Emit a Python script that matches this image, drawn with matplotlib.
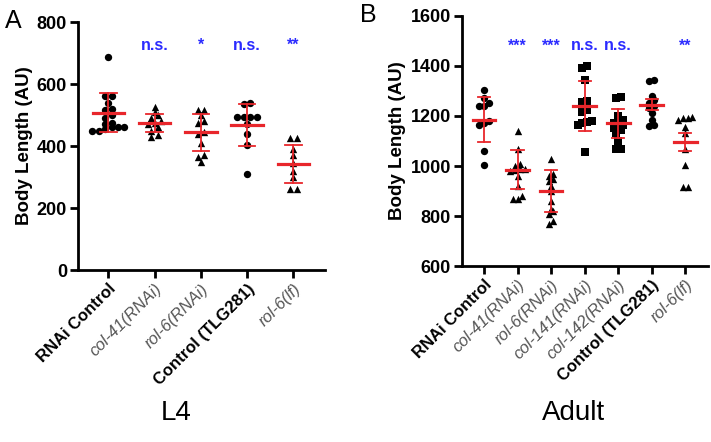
import numpy as np
import matplotlib
matplotlib.use("Agg")
import matplotlib.pyplot as plt

plt.rcParams['font.family'] = ['Liberation Sans', 'DejaVu Sans']

# ---- panel A (L4) ----
l4_labels = ['RNAi Control', 'col-41(RNAi)', 'rol-6(RNAi)', 'Control (TLG281)', 'rol-6(lf)']
l4_control = [True, False, False, True, False]
l4_markers = ['o', '^', '^', 'o', '^']
l4_values = [
    [688, 560, 560, 540, 520, 515, 500, 490, 475, 470, 460, 460, 460, 455, 450, 450],
    [525, 510, 500, 490, 480, 475, 470, 460, 450, 435, 430],
    [515, 515, 500, 480, 475, 445, 440, 410, 370, 365, 350],
    [540, 535, 495, 495, 495, 495, 470, 440, 405, 310],
    [425, 425, 390, 370, 345, 320, 300, 260, 260],
]
l4_mean = [508, 475, 445, 468, 342]
l4_sd = [62, 30, 60, 68, 61]
l4_sig = ['', 'n.s.', '*', 'n.s.', '**']

# ---- panel B (Adult) ----
ad_labels = ['RNAi Control', 'col-41(RNAi)', 'rol-6(RNAi)', 'col-141(RNAi)',
             'col-142(RNAi)', 'Control (TLG281)', 'rol-6(lf)']
ad_control = [True, False, False, False, False, True, False]
ad_markers = ['o', '^', '^', 's', 's', 'o', '^']
ad_values = [
    [1305, 1270, 1250, 1240, 1240, 1180, 1170, 1165, 1060, 1005],
    [1140, 1070, 1010, 1000, 990, 990, 985, 980, 960, 920, 880, 870, 870],
    [1030, 970, 960, 950, 940, 920, 900, 860, 830, 820, 810, 780, 770],
    [1400, 1390, 1345, 1260, 1255, 1225, 1215, 1180, 1175, 1170, 1165, 1055],
    [1275, 1270, 1200, 1185, 1175, 1170, 1165, 1160, 1150, 1145, 1130, 1100, 1070, 1070],
    [1345, 1340, 1280, 1265, 1250, 1240, 1230, 1210, 1185, 1165, 1160],
    [1195, 1190, 1190, 1185, 1155, 1130, 1070, 1005, 915, 915],
]
ad_mean = [1185, 985, 900, 1240, 1170, 1245, 1097]
ad_sd = [90, 78, 83, 100, 58, 22, 36]
ad_sig = ['', '***', '***', 'n.s.', 'n.s.', '', '**']


def swarm_offsets(vals, tol, step):
    # spread points with similar values sideways
    vals = np.asarray(vals, float)
    order = np.argsort(vals)
    offs = np.zeros(len(vals))
    group = [order[0]]
    groups = []
    for i in order[1:]:
        if vals[i] - vals[group[0]] <= tol:
            group.append(i)
        else:
            groups.append(group)
            group = [i]
    groups.append(group)
    for g in groups:
        n = len(g)
        for k, idx in enumerate(g):
            offs[idx] = (k - (n - 1) / 2) * step
    return offs


def draw_panel(ax, labels, control, markers, values, means, sds, sig,
               ylim, yticks, tol, sig_y):
    for i, vals in enumerate(values):
        xo = swarm_offsets(vals, tol, 0.14)
        ax.scatter(i + xo, vals, marker=markers[i], s=28, color='black',
                   zorder=3, linewidths=0)
        m, s = means[i], sds[i]
        ax.plot([i - 0.34, i + 0.34], [m, m], color='#e8262b', lw=2.3, zorder=4)
        ax.plot([i, i], [m - s, m + s], color='#e8262b', lw=1.3, zorder=4)
        for yy in (m - s, m + s):
            ax.plot([i - 0.18, i + 0.18], [yy, yy], color='#e8262b', lw=1.3, zorder=4)
        if sig[i]:
            ax.text(i, sig_y, sig[i], color='#2b2bff', ha='center', va='center',
                    fontsize=11.5, fontweight='bold')
    n = len(labels)
    ax.set_xlim(-0.65, n - 1 + 0.68)
    ax.set_ylim(*ylim)
    ax.set_yticks(yticks)
    ax.set_xticks(range(n))
    ax.set_xticklabels(labels, rotation=45, ha='right', rotation_mode='anchor')
    for lab, c in zip(ax.get_xticklabels(), control):
        lab.set_fontsize(12)
        if c:
            lab.set_fontweight('bold')
            lab.set_color('black')
        else:
            lab.set_fontstyle('italic')
            lab.set_color('#555555')
    for lab in ax.get_yticklabels():
        lab.set_fontweight('bold')
        lab.set_fontsize(13)
    ax.spines['top'].set_visible(False)
    ax.spines['right'].set_visible(False)
    ax.spines['left'].set_linewidth(2)
    ax.spines['bottom'].set_linewidth(2)
    ax.tick_params(axis='both', width=2, length=6, direction='out', pad=2)
    ax.set_ylabel('Body Length (AU)', fontsize=13.5, fontweight='bold', labelpad=3)


fig = plt.figure(figsize=(7.11, 4.42), dpi=100)
axA = fig.add_axes([0.110, 0.389, 0.347, 0.561])
axB = fig.add_axes([0.650, 0.398, 0.346, 0.566])

draw_panel(axA, l4_labels, l4_control, l4_markers, l4_values, l4_mean, l4_sd,
           l4_sig, (0, 800), [0, 200, 400, 600, 800], 14, 725)
draw_panel(axB, ad_labels, ad_control, ad_markers, ad_values, ad_mean, ad_sd,
           ad_sig, (600, 1600), [600, 800, 1000, 1200, 1400, 1600], 16, 1480)

fig.text(0.007, 0.952, 'A', fontsize=18, ha='left', va='center')
fig.text(0.506, 0.966, 'B', fontsize=18, ha='left', va='center')
fig.text(0.248, 0.066, 'L4', fontsize=20, ha='center', va='center')
fig.text(0.806, 0.066, 'Adult', fontsize=20, ha='center', va='center')

fig.savefig('out.png', dpi=100)
